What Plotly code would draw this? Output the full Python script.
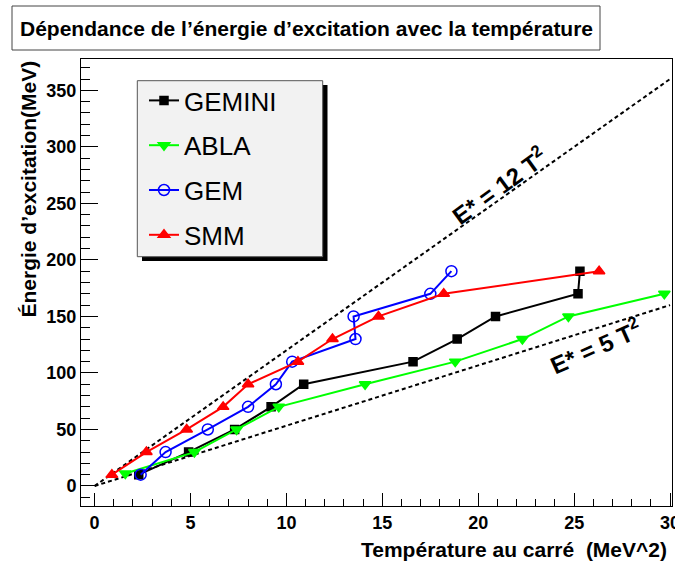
import plotly.graph_objects as go

# ---------------- data ----------------
gemini_x = [2.3, 4.9, 7.3, 9.2, 10.9, 16.6, 18.9, 20.9, 25.2, 25.3]
gemini_y = [10, 30, 50, 70, 90, 110, 130, 150, 170, 190]

abla_x = [1.6, 5.2, 7.4, 9.6, 14.1, 18.8, 22.3, 24.7, 29.7]
abla_y = [11, 30, 50, 70, 90, 110, 130, 150, 170]

gem_x = [2.4, 3.7, 5.9, 8.0, 9.45, 10.3, 13.6, 13.5, 17.5, 18.6]
gem_y = [10, 30, 50, 70, 90, 110, 130, 150, 170, 190]

smm_x = [0.9, 2.7, 4.8, 6.7, 8.0, 10.6, 12.4, 14.8, 18.2, 26.3]
smm_y = [10, 30, 50, 70, 90, 110, 130, 150, 170, 190]

ref_x = [0, 30]
ref_12 = [0, 360]
ref_5 = [0, 160]

series_names = ["GEMINI", "ABLA", "GEM", "SMM"]

title_text = "Dépendance de l’énergie d’excitation avec la température"
xtitle_text = "Température au carré  (MeV^2)"
ytitle_text = "Énergie d’excitation(MeV)"

# ---------------- layout geometry helpers ----------------
W, H = 675, 565
ML, MR, MT, MB = 81, 3, 59, 59
PW, PH = W - ML - MR, H - MT - MB


def px(xp):
    return (xp - ML) / PW


def py(yp):
    return (H - MB - yp) / PH


FONT = "Liberation Sans, Arial, Helvetica, sans-serif"

fig = go.Figure()

# reference lines
fig.add_trace(go.Scatter(x=ref_x, y=ref_12, mode="lines", showlegend=False,
                         line=dict(color="black", width=2, dash="4px,3px"),
                         hoverinfo="skip"))
fig.add_trace(go.Scatter(x=ref_x, y=ref_5, mode="lines", showlegend=False,
                         line=dict(color="black", width=2, dash="4px,3px"),
                         hoverinfo="skip"))

styles = [
    (gemini_x, gemini_y, "black", "square", 8),
    (abla_x, abla_y, "#00ff00", "triangle-down", 10),
    (gem_x, gem_y, "#0000ff", "circle-open", 11),
    (smm_x, smm_y, "#ff0000", "triangle-up", 10),
]
for name, (xs, ys, col, sym, sz) in zip(series_names, styles):
    fig.add_trace(go.Scatter(
        x=xs, y=ys, mode="lines+markers", name=name, legendgroup=name,
        line=dict(color=col, width=2),
        marker=dict(color=col, symbol=sym, size=sz,
                    line=dict(color=col, width=1.5)),
    ))

shapes = [
    # legend shadow
    dict(type="rect", xref="paper", yref="paper", layer="above",
         x0=px(142), x1=px(327.5), y0=py(261), y1=py(85),
         fillcolor="black", line=dict(width=0)),
    # legend box
    dict(type="rect", xref="paper", yref="paper", layer="above",
         x0=px(137.3), x1=px(322.7), y0=py(256.7), y1=py(80.7),
         fillcolor="#f2f2f2", line=dict(color="#555555", width=1)),
    # title box
    dict(type="rect", xref="paper", yref="paper", layer="above",
         x0=px(12), x1=px(600), y0=py(50), y1=py(6),
         fillcolor="white", line=dict(color="#444444", width=1)),
]

annotations = [
    dict(text="<b>" + title_text + "</b>", xref="paper", yref="paper",
         x=px(306), y=py(28.5), xanchor="center", yanchor="middle",
         showarrow=False, font=dict(family=FONT, size=21, color="black")),
    dict(text="<b>" + xtitle_text + "</b>", xref="paper", yref="paper",
         x=px(669), y=py(549), xanchor="right", yanchor="middle",
         showarrow=False, font=dict(family=FONT, size=21, color="black")),
    dict(text="<b>" + ytitle_text + "</b>", xref="paper", yref="paper",
         x=px(28), y=py(59), xanchor="center", yanchor="top", textangle=-90,
         showarrow=False, font=dict(family=FONT, size=21, color="black")),
    dict(text="<b>E* = 12 T<sup>2</sup></b>", x=21.1, y=266, xref="x", yref="y",
         textangle=-36, showarrow=False,
         font=dict(family=FONT, size=24, color="black")),
    dict(text="<b>E* = 5 T<sup>2</sup></b>", x=26.1, y=124, xref="x", yref="y",
         textangle=-24, showarrow=False,
         font=dict(family=FONT, size=24, color="black")),
]

fig.update_layout(
    width=W, height=H,
    margin=dict(l=ML, r=MR, t=MT, b=MB, autoexpand=False),
    paper_bgcolor="white", plot_bgcolor="white",
    font=dict(family=FONT, color="black"),
    shapes=shapes, annotations=annotations,
    legend=dict(x=px(144), y=py(77), xanchor="left", yanchor="top",
                bgcolor="rgba(0,0,0,0)", borderwidth=0,
                font=dict(family=FONT, size=26, color="black"),
                tracegroupgap=8),
    xaxis=dict(range=[-0.71, 30.1], showgrid=False, zeroline=False,
               automargin=False, ticklabeloverflow="allow",
               showline=True, linecolor="black", linewidth=1, mirror=True,
               ticks="inside", ticklen=13, tickcolor="black", tickwidth=1,
               tick0=0, dtick=5,
               tickfont=dict(family=FONT, size=18, color="black", weight="bold"),
               minor=dict(ticks="inside", ticklen=7, dtick=1, tickcolor="black",
                          tickwidth=1)),
    yaxis=dict(range=[-17.7, 377.7], showgrid=False, zeroline=False,
               automargin=False, ticklabeloverflow="allow",
               showline=True, linecolor="black", linewidth=1, mirror=True,
               ticks="inside", ticklen=17, tickcolor="black", tickwidth=1,
               tick0=0, dtick=50,
               tickfont=dict(family=FONT, size=18, color="black", weight="bold"),
               minor=dict(ticks="inside", ticklen=9, dtick=10, tickcolor="black",
                          tickwidth=1)),
)

fig.write_html("out.html",
               config={"displayModeBar": False},
               post_script="document.body.style.margin='0';")
